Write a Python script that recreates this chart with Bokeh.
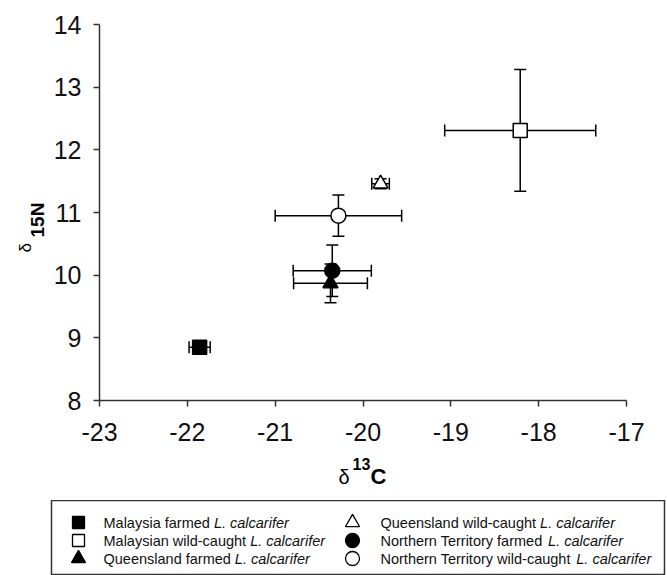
import math
from bokeh.plotting import figure
from bokeh.models import (ColumnDataSource, Whisker, TeeHead, FixedTicker, Range1d,
                          CustomJSTickFormatter)
from bokeh.layouts import column, row
from bokeh.core.properties import value
from bokeh.embed import file_html
from bokeh.resources import INLINE

# ---- data ----
groups = ["Malaysia farmed", "Malaysian wild-caught", "Queensland farmed",
          "Queensland wild-caught", "Northern Territory farmed", "Northern Territory wild-caught"]
d13C = [-21.86, -18.21, -20.37, -19.80, -20.35, -20.28]
d13C_err = [0.12, 0.86, 0.42, 0.10, 0.445, 0.72]
d15N = [8.85, 12.31, 9.87, 11.46, 10.07, 10.95]
d15N_err = [0.04, 0.97, 0.31, 0.08, 0.41, 0.33]
markers = ["square", "square", "triangle", "triangle", "circle", "circle"]
filled = [True, False, True, False, True, False]
x_ticks = [-23, -22, -21, -20, -19, -18, -17]
y_ticks = [8, 9, 10, 11, 12, 13, 14]
species = "L. calcarifer"
x_title = ["δ", "13", "C"]
y_title = ["δ", "15N"]

FONT = "Liberation Sans"


def blank(fig):
    fig.axis.visible = False
    fig.grid.visible = False
    fig.outline_line_color = None
    fig.background_fill_color = "white"
    fig.border_fill_color = "white"


src = ColumnDataSource(dict(
    x=d13C, y=d15N,
    xl=[a - b for a, b in zip(d13C, d13C_err)], xu=[a + b for a, b in zip(d13C, d13C_err)],
    yl=[a - b for a, b in zip(d15N, d15N_err)], yu=[a + b for a, b in zip(d15N, d15N_err)],
    marker=markers,
    fill=["black" if f else "white" for f in filled],
    size=[14 if m == "square" else 15 for m in markers],
))

# ---- main plot ----
YT_W = 50
p = figure(frame_width=527, frame_height=376, x_range=Range1d(-23, -17), y_range=Range1d(8, 14),
           output_backend="svg", toolbar_location=None,
           min_border_left=99 - YT_W, min_border_top=24, min_border_right=41, min_border_bottom=48)
p.outline_line_color = None
p.grid.visible = False
p.background_fill_color = "white"
p.border_fill_color = "white"

for ax in (p.xaxis[0], p.yaxis[0]):
    ax.axis_line_color = "#333333"
    ax.axis_line_width = 1.5
    ax.major_tick_line_color = "#333333"
    ax.major_tick_line_width = 1.5
    ax.major_tick_out = 6
    ax.major_tick_in = 0
    ax.minor_tick_line_color = None
    ax.major_label_text_font = FONT
    ax.major_label_text_font_size = "25px"
    ax.major_label_text_color = "#111111"
    ax.formatter = CustomJSTickFormatter(code="return tick.toString();")
p.xaxis.ticker = FixedTicker(ticks=x_ticks)
p.yaxis.ticker = FixedTicker(ticks=y_ticks)
p.xaxis.major_label_standoff = 16
p.yaxis.major_label_standoff = 12

head = dict(size=12, line_width=1.5, line_color="black")
p.add_layout(Whisker(source=src, base="x", lower="yl", upper="yu", dimension="height",
                     line_width=1.5, line_color="black",
                     lower_head=TeeHead(**head), upper_head=TeeHead(**head)))
p.add_layout(Whisker(source=src, base="y", lower="xl", upper="xu", dimension="width",
                     line_width=1.5, line_color="black",
                     lower_head=TeeHead(**head), upper_head=TeeHead(**head)))

p.scatter("x", "y", source=src, marker="marker", size="size", fill_color="fill",
          line_color="black", line_width=1.5)

# ---- y-axis title strip (pixel coordinates, y downward) ----
yt = figure(frame_width=YT_W, frame_height=376, x_range=Range1d(0, YT_W), y_range=Range1d(376, 0),
            output_backend="svg", toolbar_location=None,
            min_border_left=0, min_border_right=0, min_border_top=24, min_border_bottom=48)
blank(yt)
yt.text(x=[25], y=[228], text=[y_title[0]], angle=math.pi / 2, text_font=value(FONT),
        text_font_size="17px", text_color="black", text_baseline="alphabetic", text_align="left")
yt.text(x=[37], y=[213], text=[y_title[1]], angle=math.pi / 2, text_font=value(FONT),
        text_font_size="19px", text_font_style="bold", text_color="black",
        text_baseline="alphabetic", text_align="left")

# ---- x-axis title strip ----
XT_W, XT_H = 667, 52
xt = figure(frame_width=XT_W, frame_height=XT_H, x_range=Range1d(0, XT_W), y_range=Range1d(XT_H, 0),
            output_backend="svg", toolbar_location=None,
            min_border_left=0, min_border_right=0, min_border_top=0, min_border_bottom=0)
blank(xt)
xt.text(x=[338], y=[28], text=[x_title[0]], text_font=value(FONT), text_font_size="20px",
        text_color="black", text_baseline="alphabetic", text_align="left")
xt.text(x=[352], y=[15], text=[x_title[1]], text_font=value(FONT), text_font_size="16px",
        text_font_style="bold", text_color="black", text_baseline="alphabetic", text_align="left")
xt.text(x=[370], y=[28], text=[x_title[2]], text_font=value(FONT), text_font_size="22px",
        text_font_style="bold", text_color="black", text_baseline="alphabetic", text_align="left")

# ---- legend panel ----
ARIAL_W = {" ": 278, "M": 833, "a": 556, "l": 222, "y": 500, "s": 500, "i": 222, "n": 556,
           "w": 722, "d": 556, "-": 333, "c": 500, "u": 556, "g": 556, "h": 556, "t": 278,
           "Q": 778, "e": 556, "f": 278, "r": 333, "m": 833, "N": 722, "o": 556, "T": 611}
LEG_FS = 14.5


def text_width(s, fs):
    return sum(ARIAL_W.get(ch, 556) for ch in s) * fs / 1000.0


LW, LH = 613, 74
leg = figure(frame_width=LW, frame_height=LH, x_range=Range1d(0, LW), y_range=Range1d(LH, 0),
             output_backend="svg", toolbar_location=None,
             min_border_left=51, min_border_right=3, min_border_top=0, min_border_bottom=1)
leg.axis.visible = False
leg.grid.visible = False
leg.outline_line_color = "#333333"
leg.outline_line_width = 1.5

col_mx = [27, 301]
col_tx = [52, 329]
row_y = [22, 40, 58]
lx, ly, lm, lf, tx, ty, pre, itx = [], [], [], [], [], [], [], []
for i, g in enumerate(groups):
    c, r = divmod(i, 3)
    lx.append(col_mx[c]); ly.append(row_y[r]); lm.append(markers[i])
    lf.append("black" if filled[i] else "white")
    prefix = g + " "
    tx.append(col_tx[c]); ty.append(row_y[r]); pre.append(prefix)
    itx.append(col_tx[c] + text_width(prefix, LEG_FS))
lsrc = ColumnDataSource(dict(x=lx, y=ly, marker=lm, fill=lf,
                             size=[12 if m == "square" else 14 for m in lm]))
leg.scatter("x", "y", source=lsrc, marker="marker", size="size", fill_color="fill",
            line_color="black", line_width=1.3)
leg.text(x=tx, y=ty, text=pre, text_font=value(FONT), text_font_size=f"{LEG_FS}px",
         text_baseline="middle", text_align="left", text_color="#111111")
leg.text(x=itx, y=ty, text=[species] * len(itx), text_font=value(FONT), text_font_size=f"{LEG_FS}px",
         text_font_style="italic", text_baseline="middle", text_align="left", text_color="#111111")

layout = column(row(yt, p, spacing=0), column(xt, spacing=0), column(leg, spacing=0), spacing=0)
open("out.html", "w").write(file_html(layout, INLINE))
